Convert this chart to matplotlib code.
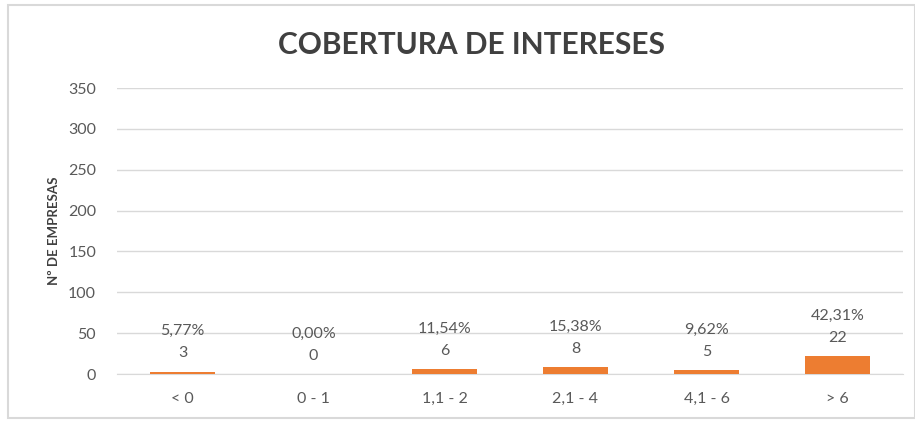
import matplotlib
matplotlib.use("Agg")
import matplotlib.pyplot as plt
from matplotlib.patches import Rectangle

categories = ["< 0", "0 - 1", "1,1 - 2", "2,1 - 4", "4,1 - 6", "> 6"]
counts = [3, 0, 6, 8, 5, 22]
percents = ["5,77%", "0,00%", "11,54%", "15,38%", "9,62%", "42,31%"]
yticks = [0, 50, 100, 150, 200, 250, 300, 350]

plt.rcParams['font.family'] = ['Lato', 'DejaVu Sans']

fig = plt.figure(figsize=(9.15, 4.23), dpi=100)
ax = fig.add_axes([117/915, 49/423, (903-117)/915, (335-49)/423])

x = list(range(len(categories)))
ax.bar(x, counts, width=0.49, color="#ED7D31", zorder=3)

for xi, c, p in zip(x, counts, percents):
    ax.annotate(f"{p}\n{c}", (xi, c), xytext=(0, 8), textcoords="offset points",
                ha="center", va="bottom", fontsize=11.5, color="#595959",
                linespacing=1.75)

ax.set_xlim(-0.5, len(categories) - 0.5)
ax.set_ylim(0, 350)
ax.set_yticks(yticks)
ax.set_xticks(x)
ax.set_xticklabels(categories)
ax.tick_params(axis="both", length=0, labelsize=11.5, labelcolor="#595959")
ax.tick_params(axis="y", pad=15)
ax.tick_params(axis="x", pad=13)
ax.grid(axis="y", color="#D9D9D9", linewidth=1, zorder=0)
for s in ["top", "right", "left"]:
    ax.spines[s].set_visible(False)
ax.spines["bottom"].set_color("#D9D9D9")

ax.set_ylabel("Nº DE EMPRESAS", fontsize=9.5, fontweight="bold", color="#404040", labelpad=6)

fig.text(472/915, 1 - 45/423, "COBERTURA DE INTERESES", ha="center", va="center",
         fontsize=21.5, fontweight="bold", color="#404040")

fig.patches.append(Rectangle((8/915, 5/423), 1 - 8/915, 1 - 10/423, transform=fig.transFigure,
                             fill=False, edgecolor="#D9D9D9", linewidth=1.5))

fig.savefig("out.png", dpi=100)
